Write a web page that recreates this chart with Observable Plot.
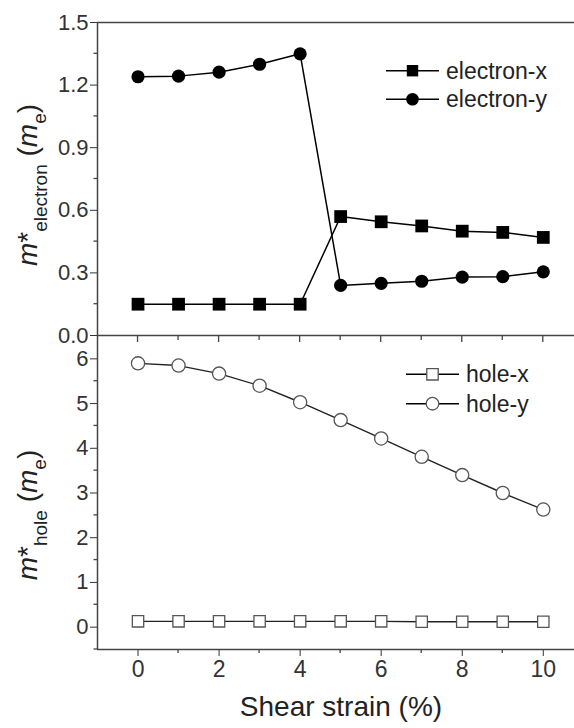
<!DOCTYPE html>
<html><head><meta charset="utf-8">
<script src="https://cdn.jsdelivr.net/npm/d3@7"></script>
<script src="https://cdn.jsdelivr.net/npm/@observablehq/plot@0.6"></script>
<style>
body{margin:0;background:#fff;}
#chart{position:relative;width:574px;height:728px;overflow:hidden;background:#fff;}
#chart svg{display:block;overflow:visible;}
</style></head><body><div id="chart"></div>
<script>
// ---- data ----
const strain = [0,1,2,3,4,5,6,7,8,9,10];
const electronX = [0.15,0.15,0.15,0.15,0.15,0.57,0.545,0.525,0.50,0.494,0.47];
const electronY = [1.24,1.243,1.262,1.30,1.35,0.24,0.25,0.26,0.28,0.282,0.305];
const holeX = [0.13,0.13,0.13,0.13,0.13,0.13,0.13,0.12,0.12,0.12,0.12];
const holeY = [5.90,5.85,5.67,5.40,5.03,4.63,4.22,3.81,3.40,3.00,2.63];
const xTicks = [0,2,4,6,8,10];
const xMinor = [1,3,5,7,9];
const topTicks = [0,0.3,0.6,0.9,1.2,1.5];
const topMinor = [0.15,0.45,0.75,1.05,1.35];
const botTicks = [0,1,2,3,4,5,6];
const botMinor = [-0.5,0.5,1.5,2.5,3.5,4.5,5.5];
const topLegend = ["electron-x","electron-y"];
const botLegend = ["hole-x","hole-y"];

// ---- styles ----
const FONT = "'Liberation Sans', Arial, Helvetica, sans-serif";
const AX = "#444";
const W = 574, ML = 97;
const xDomain = [-1, 10.77];
const chart = document.getElementById("chart");

const topPlot = Plot.plot({
  width: W, height: 336, marginLeft: ML, marginRight: 0, marginTop: 22, marginBottom: 1,
  style: {fontFamily: FONT, fontSize: "22px", color: "#333", background: "transparent", overflow: "visible"},
  x: {domain: xDomain, axis: null},
  y: {domain: [0, 1.5], ticks: topTicks, tickSize: 7, tickPadding: 2, tickFormat: d => d.toFixed(1), label: null},
  marks: [
    Plot.ruleX([-1], {stroke: AX, strokeWidth: 1.5}),
    Plot.ruleY([1.5], {stroke: AX, strokeWidth: 1.5}),
    Plot.ruleY([0], {stroke: AX, strokeWidth: 1.5}),
    Plot.line(strain, {x: strain, y: electronX, stroke: "#000", strokeWidth: 1.5}),
    Plot.line(strain, {x: strain, y: electronY, stroke: "#000", strokeWidth: 1.5}),
    Plot.dot(strain, {x: strain, y: electronX, symbol: "square", r: 7.2, fill: "#000"}),
    Plot.dot(strain, {x: strain, y: electronY, symbol: "circle", r: 6.6, fill: "#000"})
  ]
});

const botPlot = Plot.plot({
  width: W, height: 393, marginLeft: ML, marginRight: 0, marginTop: 0, marginBottom: 80,
  style: {fontFamily: FONT, fontSize: "22px", color: "#333", background: "transparent", overflow: "visible"},
  x: {domain: xDomain, ticks: xTicks, tickSize: 7, tickPadding: 4, tickFormat: d => String(d), label: null},
  y: {domain: [-0.5, 6.5], ticks: botTicks, tickSize: 7, tickPadding: 2, tickFormat: d => String(d), label: null},
  marks: [
    Plot.ruleX([-1], {stroke: AX, strokeWidth: 1.5}),
    Plot.ruleY([-0.5], {stroke: AX, strokeWidth: 1.5}),
    Plot.line(strain, {x: strain, y: holeX, stroke: "#222", strokeWidth: 1.4}),
    Plot.line(strain, {x: strain, y: holeY, stroke: "#222", strokeWidth: 1.4}),
    Plot.dot(strain, {x: strain, y: holeX, symbol: "square", r: 6.4, fill: "#fff", stroke: "#555", strokeWidth: 1.3}),
    Plot.dot(strain, {x: strain, y: holeY, symbol: "circle", r: 6.6, fill: "#fff", stroke: "#555", strokeWidth: 1.3})
  ]
});

chart.appendChild(topPlot);
chart.appendChild(botPlot);

// x tick labels a touch larger, as in the reference
d3.select(botPlot).selectAll("g[aria-label='x-axis'] text, g[aria-label='x-axis tick label'] text").attr("font-size", 23);

// ---- minor / inward ticks using Plot's scales ----
function yTicks(svg, vals, len) {
  const ys = svg.scale("y"), xs = svg.scale("x");
  const x0 = xs.apply(-1);
  const g = d3.select(svg).append("g").attr("stroke", AX).attr("stroke-width", 1.3);
  vals.forEach(v => g.append("line").attr("x1", x0 - len).attr("x2", x0).attr("y1", ys.apply(v)).attr("y2", ys.apply(v)));
}
function xTicksAt(svg, vals, yv, len) {
  const ys = svg.scale("y"), xs = svg.scale("x");
  const y0 = ys.apply(yv);
  const g = d3.select(svg).append("g").attr("stroke", AX).attr("stroke-width", 1.3);
  vals.forEach(v => g.append("line").attr("x1", xs.apply(v)).attr("x2", xs.apply(v)).attr("y1", y0).attr("y2", y0 + len));
}
yTicks(topPlot, topMinor, 3.5);
yTicks(botPlot, botMinor, 3.5);
xTicksAt(botPlot, xMinor, -0.5, 4);
xTicksAt(botPlot, xTicks, 6.5, 6);
xTicksAt(botPlot, xMinor, 6.5, 4);

// ---- legends ----
function legend(svg, items, symbols, filled, x0, y0s) {
  const g = d3.select(svg).append("g").attr("font-family", FONT).attr("font-size", 23).attr("text-anchor", "start");
  items.forEach((name, i) => {
    const y = y0s[i];
    g.append("line").attr("x1", x0).attr("x2", x0 + 53).attr("y1", y).attr("y2", y)
      .attr("stroke", "#000").attr("stroke-width", 1.4);
    const cx = x0 + 26.5;
    const sym = d3.symbol().type(symbols[i] === "square" ? d3.symbolSquare : d3.symbolCircle)
      .size(symbols[i] === "square" ? 130 : 125);
    g.append("path").attr("d", sym()).attr("transform", `translate(${cx},${y})`)
      .attr("fill", filled ? "#000" : "#fff").attr("stroke", filled ? "none" : "#555").attr("stroke-width", 1.3);
    g.append("text").attr("x", x0 + 60).attr("y", y).attr("dy", "0.35em").attr("fill", "#222").text(name);
  });
}
legend(topPlot, topLegend, ["square","circle"], true, 386, [70.7, 99.3]);
legend(botPlot, botLegend, ["square","circle"], false, 406, [38.3, 67.7]);

// ---- y labels ----
function ylabel(svg, sub, cx, cy) {
  const t = d3.select(svg).append("text").attr("font-family", FONT).attr("fill", "#222")
    .attr("text-anchor", "middle").attr("transform", `translate(${cx},${cy}) rotate(-90)`).attr("font-size", 28);
  t.append("tspan").attr("font-style", "italic").text("m");
  t.append("tspan").text("*");
  t.append("tspan").attr("font-size", 19).attr("dy", 10).text(sub);
  t.append("tspan").attr("dy", -10).text(" (");
  t.append("tspan").attr("font-style", "italic").text("m");
  t.append("tspan").attr("font-size", 19).attr("dy", 9).text("e");
  t.append("tspan").attr("dy", -9).text(")");
}
ylabel(topPlot, "electron", 37, 185);
ylabel(botPlot, "hole", 37, 179);

// ---- x label ----
d3.select(botPlot).append("text").attr("font-family", FONT).attr("font-size", 28).attr("fill", "#222")
  .attr("text-anchor", "middle").attr("x", 341).attr("y", 380).text("Shear strain (%)");
</script></body></html>
